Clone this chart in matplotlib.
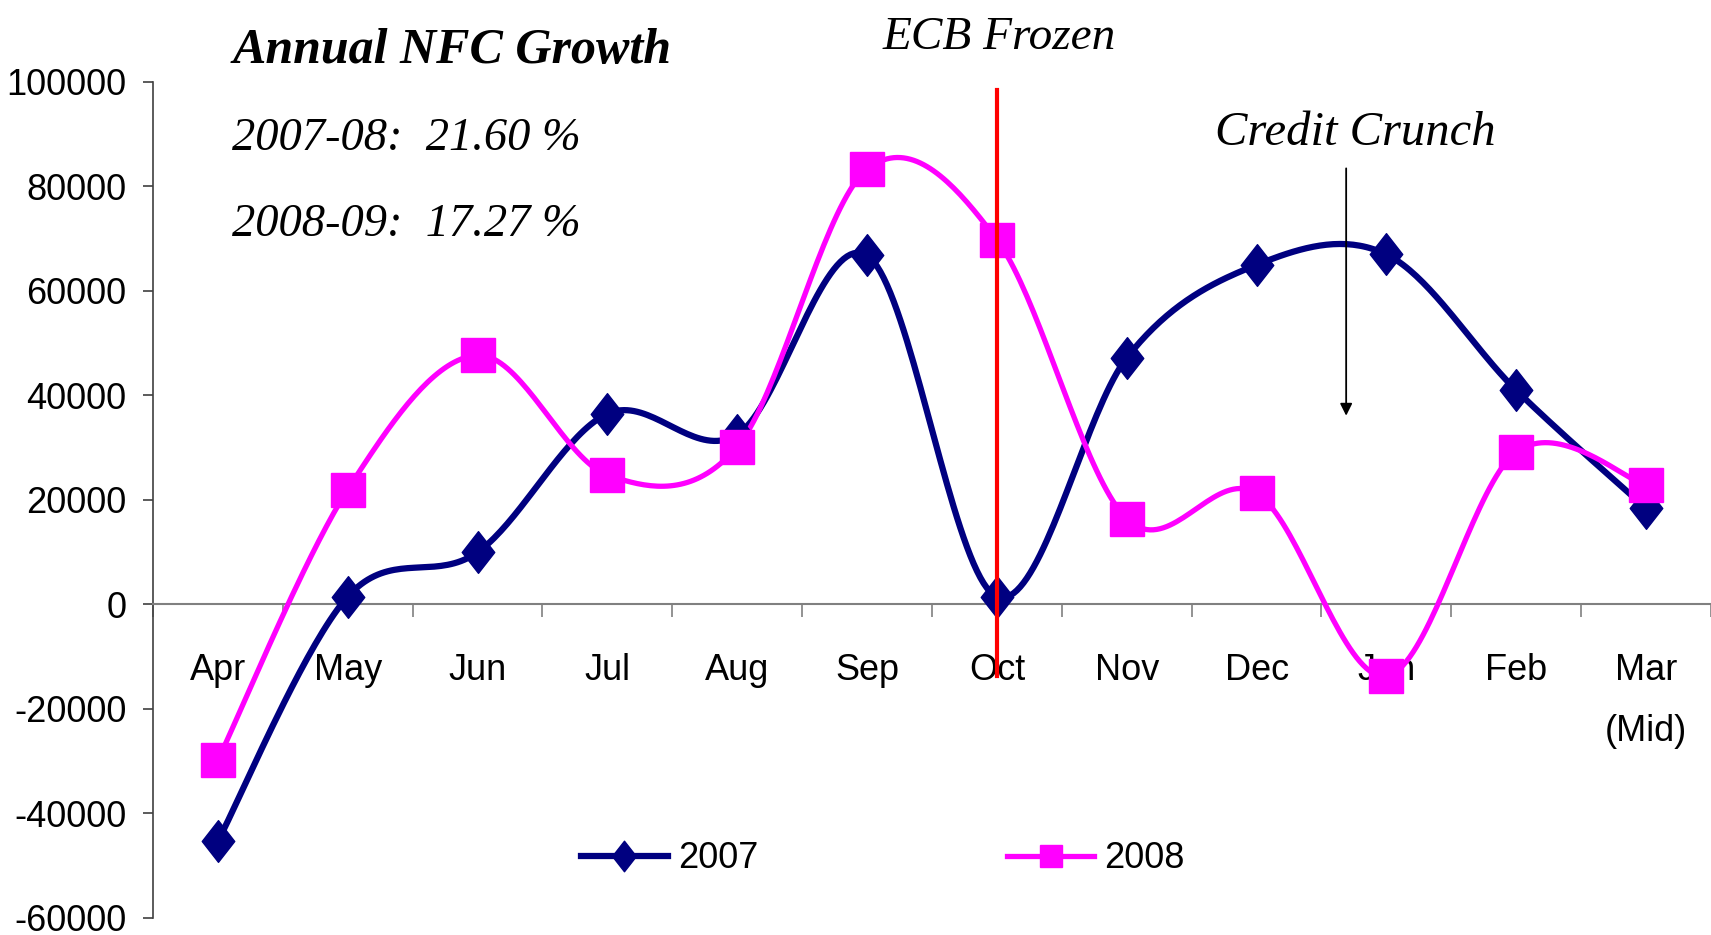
import numpy as np
import matplotlib
matplotlib.use("Agg")
import matplotlib.pyplot as plt
from matplotlib.path import Path

months = ['Apr', 'May', 'Jun', 'Jul', 'Aug', 'Sep', 'Oct', 'Nov', 'Dec', 'Jan', 'Feb', 'Mar\n(Mid)']
nfc_2007 = [-45300, 1500, 10000, 36500, 32500, 66800, 1500, 47200, 65000, 67000, 41000, 18400]
nfc_2008 = [-29800, 22000, 47700, 24800, 30200, 83300, 69800, 16400, 21300, -13700, 29200, 22800]

yticks = [-60000, -40000, -20000, 0, 20000, 40000, 60000, 80000, 100000]

NAVY = '#000080'
PINK = '#FF00FF'
sans = ['Liberation Sans Narrow', 'Liberation Sans', 'DejaVu Sans']
serif = ['Liberation Serif', 'DejaVu Serif']


def smooth(y, n=40):
    # excel style smoothed line: bezier segments with catmull-rom control points
    x = np.arange(len(y), dtype=float)
    y = np.asarray(y, dtype=float)
    px = np.concatenate([[x[0]], x, [x[-1]]])
    py = np.concatenate([[y[0]], y, [y[-1]]])
    xs, ys = [], []
    t = np.linspace(0, 1, n)
    for i in range(len(y) - 1):
        p0 = np.array([px[i + 1], py[i + 1]])
        p3 = np.array([px[i + 2], py[i + 2]])
        c1 = p0 + (p3 - np.array([px[i], py[i]])) / 6
        c2 = p3 - (np.array([px[i + 3], py[i + 3]]) - p0) / 6
        b = ((1 - t) ** 3)[:, None] * p0 + (3 * (1 - t) ** 2 * t)[:, None] * c1 \
            + (3 * (1 - t) * t ** 2)[:, None] * c2 + (t ** 3)[:, None] * p3
        xs.extend(b[:, 0])
        ys.extend(b[:, 1])
    return np.array(xs), np.array(ys)


diamond = Path([(0, 1), (0.78, 0), (0, -1), (-0.78, 0), (0, 1)],
               [Path.MOVETO, Path.LINETO, Path.LINETO, Path.LINETO, Path.CLOSEPOLY])

fig = plt.figure(figsize=(17.11, 9.35), dpi=100)
ax = fig.add_axes([0.0894, 0.0182, 0.9106, 0.8941])

x = np.arange(len(months))

sx, sy = smooth(nfc_2007)
ax.plot(sx, sy, color=NAVY, lw=4.5, solid_capstyle='round', zorder=3)
ax.plot(x, nfc_2007, ls='none', marker=diamond, ms=30, color=NAVY, mec=NAVY, zorder=4)

sx, sy = smooth(nfc_2008)
ax.plot(sx, sy, color=PINK, lw=3.8, solid_capstyle='round', zorder=3)
ax.plot(x, nfc_2008, ls='none', marker='s', ms=25, color=PINK, mec=PINK, zorder=4)

# legend proxies
ax.plot([], [], color=NAVY, lw=4.5, marker=diamond, ms=22, label='2007')
ax.plot([], [], color=PINK, lw=3.8, marker='s', ms=16, label='2008')

# ECB frozen marker line
ax.plot([6, 6], [98500, -13700], color='#FF0000', lw=3, zorder=5, clip_on=False)

ax.annotate('', xy=(8.69, 35600), xytext=(8.69, 84000),
            arrowprops=dict(arrowstyle='-|>', color='black', lw=1.3, mutation_scale=18))

ax.text(0.11, 106000, 'Annual NFC Growth', family=serif, style='italic', weight='bold',
        fontsize=36, va='center', ha='left')
ax.text(0.11, 89200, '2007-08:  21.60 %', family=serif, style='italic',
        fontsize=33.5, va='center', ha='left')
ax.text(0.11, 72700, '2008-09:  17.27 %', family=serif, style='italic',
        fontsize=33.5, va='center', ha='left')
ax.text(5.12, 108500, 'ECB Frozen', family=serif, style='italic',
        fontsize=34, va='center', ha='left')
ax.text(7.68, 90300, 'Credit Crunch', family=serif, style='italic',
        fontsize=35, va='center', ha='left')

ax.set_xlim(-0.5, 11.5)
ax.set_ylim(-60000, 100000)

for s in ['top', 'right']:
    ax.spines[s].set_visible(False)
ax.spines['bottom'].set_position(('data', 0))
ax.spines['bottom'].set_color('#808080')
ax.spines['bottom'].set_linewidth(1.5)
ax.spines['left'].set_color('#404040')
ax.spines['left'].set_linewidth(1.2)

ax.set_xticks(np.arange(-0.5, 12, 1))
ax.set_xticklabels([])
ax.set_xticks(x, minor=True)
ax.set_xticklabels(months, minor=True, family=sans, fontsize=26, linespacing=1.95)
ax.tick_params(axis='x', which='major', direction='out', length=9, width=1.2, color='#808080')
ax.tick_params(axis='x', which='minor', length=0, pad=35)

ax.set_yticks(yticks)
ax.set_yticklabels([str(v) for v in yticks], family=sans, fontsize=26)
ax.tick_params(axis='y', direction='out', length=7, width=1.2, color='#404040', pad=12)

ax.legend(loc='center', bbox_to_anchor=(0.516, 0.0813), bbox_transform=fig.transFigure,
          ncol=2, frameon=False, prop={'family': sans, 'size': 26},
          handlelength=2.4, handletextpad=0.28, columnspacing=6.9)

fig.savefig('out.png', dpi=100)
